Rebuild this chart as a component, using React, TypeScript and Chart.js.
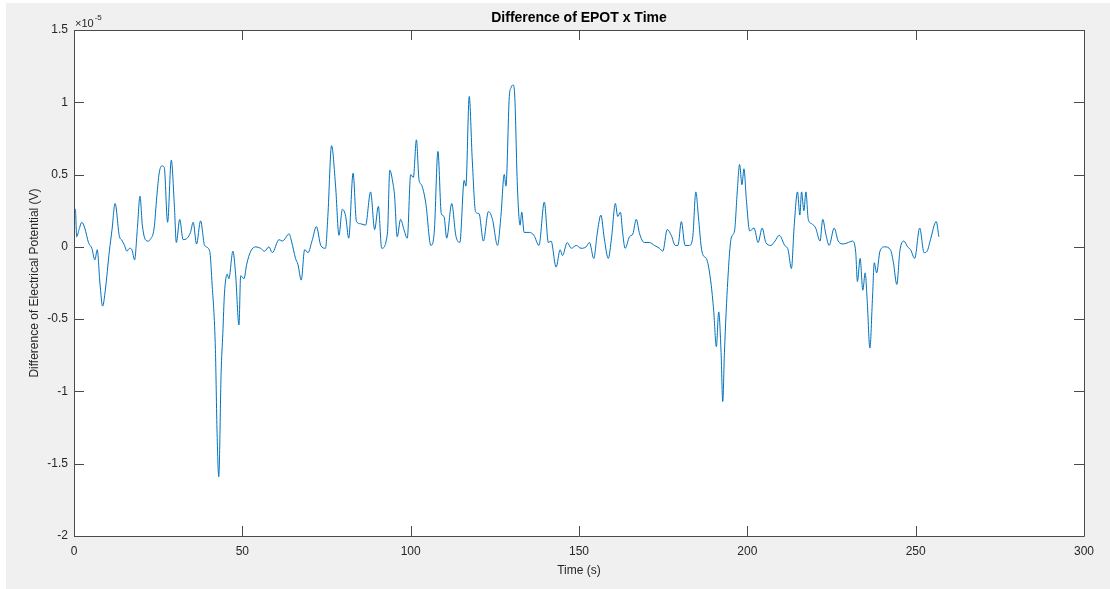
import React, { useEffect, useRef } from "react";
import { Chart, registerables } from "chart.js";

Chart.register(...registerables);

// Time (s)
const times: number[] = [
  0, 0.4, 0.8, 1.5, 2.3, 3.2, 4.3, 5.3, 6.2, 6.9, 7.7, 8.5, 9.3, 10.5, 11.3, 12.2, 13.5, 14.1, 15.0, 15.7,
  16.5, 17.2, 18.0, 18.8, 19.6, 20.3, 21.2, 22.0, 22.6, 23.8, 24.6, 25.3, 26.1, 26.8, 27.8, 28.9, 29.8, 30.4, 31.4, 32.4,
  33.6, 34.6, 35.4, 36.4, 37.6, 38.8, 40.3, 41.0, 42.0, 42.5, 43.0, 43.7, 44.2, 44.7, 45.5, 46.0, 47.2, 48.0, 49.0, 49.5,
  50.5, 51.3, 52.5, 54.0, 55.4, 56.6, 57.9, 58.9, 60.9, 61.9, 63.9, 64.6, 65.8, 66.5, 67.5, 68.5, 69.5, 70.8, 72.0, 73.3,
  74.7, 75.4, 76.5, 77.7, 78.7, 79.7, 80.7, 81.6, 82.9, 83.9, 85.1, 86.6, 88.1, 89.3, 90.4, 91.4, 93.1, 93.8, 94.8, 95.2,
  96.0, 97.0, 98.0, 99.0, 100.0, 100.8, 101.7, 102.5, 103.2, 104.5, 106.0, 107.0, 108.1, 109.1, 109.9, 110.7, 112.2, 113.4, 114.6, 115.9,
  116.4, 117.4, 118.3, 119.3, 120.3, 121.6, 123.1, 124.3, 125.8, 126.8, 127.8, 128.3, 129.3, 129.8, 130.4, 130.9, 131.7, 132.5, 133.0, 133.7,
  135.2, 136.6, 138.1, 139.7, 140.9, 141.7, 143.2, 144.4, 145.1, 146.5, 147.7, 149.2, 150.6, 152.1, 153.1, 154.4, 155.4, 156.5, 157.5, 158.7,
  159.7, 160.8, 161.5, 162.3, 163.0, 163.7, 165.0, 166.0, 167.0, 168.0, 169.4, 170.9, 172.4, 173.9, 174.9, 176.2, 177.4, 178.6, 179.4, 180.4,
  181.5, 182.8, 183.8, 184.7, 185.5, 186.3, 186.8, 188.0, 189.2, 190.0, 190.8, 191.5, 192.2, 192.7, 193.2, 194.2, 195.2, 196.2, 197.0, 197.7,
  198.4, 199.0, 199.7, 200.7, 202.0, 203.2, 204.4, 205.5, 207.0, 208.2, 209.5, 211.1, 212.1, 213.1, 213.9, 214.9, 215.6, 216.1, 216.8, 217.4,
  218.1, 219.1, 220.3, 221.6, 222.4, 223.3, 224.3, 225.8, 227.0, 228.5, 230.0, 231.2, 232.2, 232.7, 233.5, 234.3, 235.0, 235.6, 236.4, 237.2,
  237.7, 238.4, 239.4, 240.8, 242.5, 243.4, 244.4, 245.3, 246.5, 247.6, 248.5, 249.7, 251.2, 252.5, 253.4, 254.4, 256.1, 256.9,
];

// Difference of electrical potential, in units of 1e-5 V
const potentialDiffE5: number[] = [
  0.24, 0.26, 0.07, 0.12, 0.17, 0.13, 0.03, -0.01, -0.09, -0.02, -0.25, -0.41, -0.3, -0.03, 0.12, 0.3, 0.07, 0.05, 0.01, -0.03,
  -0.01, -0.02, -0.09, 0.12, 0.35, 0.15, 0.05, 0.04, 0.05, 0.13, 0.35, 0.51, 0.56, 0.55, 0.17, 0.6, 0.29, 0.03, 0.19, 0.05,
  0.06, 0.1, 0.17, 0.02, 0.18, 0.01, -0.03, -0.25, -0.71, -1.29, -1.59, -0.87, -0.6, -0.32, -0.19, -0.22, -0.03, -0.19, -0.54, -0.2,
  -0.22, -0.12, -0.03, 0.0, -0.01, -0.03, 0.0, -0.04, 0.05, 0.04, 0.09, 0.04, -0.08, -0.12, -0.23, -0.02, -0.04, 0.05, 0.14, 0.01,
  -0.01, 0.21, 0.7, 0.42, 0.08, 0.26, 0.21, 0.06, 0.51, 0.175, 0.16, 0.15, 0.38, 0.12, 0.28, -0.01, 0.095, 0.53, 0.43, 0.36,
  0.07, 0.19, 0.12, 0.06, 0.5, 0.48, 0.74, 0.46, 0.43, 0.3, 0.01, 0.1, 0.66, 0.23, 0.21, 0.06, 0.3, 0.08, 0.03, 0.46,
  0.42, 1.04, 0.6, 0.24, 0.23, 0.04, 0.245, 0.19, 0.01, 0.21, 0.5, 0.42, 1.04, 1.1, 1.12, 1.05, 0.42, 0.15, 0.24, 0.1,
  0.1, 0.08, 0.01, 0.31, 0.03, 0.04, -0.14, -0.02, -0.06, 0.03, -0.01, 0.01, -0.01, 0.0, 0.03, -0.08, 0.09, 0.22, 0.06, -0.08,
  0.07, 0.3, 0.21, 0.24, 0.09, -0.01, 0.07, 0.09, 0.19, 0.09, 0.03, 0.03, 0.01, -0.01, -0.03, 0.12, 0.08, 0.01, 0.01, 0.175,
  0.01, 0.01, 0.07, 0.38, 0.2, 0.0, -0.055, -0.09, -0.25, -0.44, -0.69, -0.45, -0.73, -1.07, -0.73, -0.23, 0.06, 0.11, 0.38, 0.57,
  0.43, 0.54, 0.33, 0.11, 0.13, 0.03, 0.13, 0.03, 0.01, 0.04, 0.08, 0.01, -0.02, -0.15, 0.14, 0.38, 0.22, 0.38, 0.25, 0.38,
  0.19, 0.16, 0.13, 0.04, 0.19, 0.09, 0.01, 0.13, 0.04, 0.02, 0.03, 0.04, -0.04, -0.24, -0.08, -0.3, -0.18, -0.37, -0.7, -0.34,
  -0.11, -0.18, -0.03, 0.0, -0.02, -0.11, -0.26, -0.03, 0.04, 0.0, -0.02, -0.08, 0.13, -0.04, -0.03, 0.05, 0.175, 0.07,
];

const xTicks: number[] = [0, 50, 100, 150, 200, 250, 300];
const yTicks: number[] = [-2, -1.5, -1, -0.5, 0, 0.5, 1, 1.5];

const titleText = "Difference of EPOT x Time";
const xLabel = "Time (s)";
const yLabel = "Difference of Electrical Potential (V)";

const FONT = "'Liberation Sans', Arial, Helvetica, sans-serif";
const TEXT_COLOR = "#262626";
const AXIS_COLOR = "#4a4a4a";

const decorPlugin = {
  id: "matlabDecor",
  beforeDraw(chart: any) {
    const { ctx, width, height, chartArea } = chart;
    ctx.save();
    ctx.fillStyle = "#ffffff";
    ctx.fillRect(0, 0, width, height);
    ctx.fillStyle = "#f0f0f0";
    ctx.fillRect(6, 3, width - 6, height - 3);
    ctx.fillStyle = "#ffffff";
    ctx.fillRect(chartArea.left, chartArea.top, chartArea.right - chartArea.left, chartArea.bottom - chartArea.top);
    ctx.restore();
  },
  afterDraw(chart: any) {
    const { ctx, chartArea } = chart;
    const xs = chart.scales.x;
    const ys = chart.scales.y;
    const { left, right, top, bottom } = chartArea;
    ctx.save();
    ctx.strokeStyle = AXIS_COLOR;
    ctx.lineWidth = 1;
    ctx.beginPath();
    ctx.rect(Math.round(left) + 0.5, Math.round(top) + 0.5, Math.round(right - left), Math.round(bottom - top));
    ctx.stroke();
    const tl = 10;
    ctx.beginPath();
    xTicks.forEach((t) => {
      const px = Math.round(xs.getPixelForValue(t)) + 0.5;
      ctx.moveTo(px, bottom);
      ctx.lineTo(px, bottom - tl);
      ctx.moveTo(px, top);
      ctx.lineTo(px, top + tl);
    });
    yTicks.forEach((v) => {
      const py = Math.round(ys.getPixelForValue(v)) + 0.5;
      ctx.moveTo(left, py);
      ctx.lineTo(left + tl, py);
      ctx.moveTo(right, py);
      ctx.lineTo(right - tl, py);
    });
    ctx.stroke();

    ctx.fillStyle = "#000000";
    ctx.font = `bold 14px ${FONT}`;
    ctx.textAlign = "center";
    ctx.textBaseline = "middle";
    ctx.fillText(titleText, (left + right) / 2, 18.5);

    ctx.fillStyle = TEXT_COLOR;
    ctx.font = `12px ${FONT}`;
    ctx.fillText(xLabel, (left + right) / 2, 571);

    ctx.save();
    ctx.translate(35, (top + bottom) / 2);
    ctx.rotate(-Math.PI / 2);
    ctx.fillText(yLabel, 0, 0);
    ctx.restore();

    ctx.textAlign = "left";
    ctx.textBaseline = "alphabetic";
    ctx.font = `11px ${FONT}`;
    ctx.fillText("\u00d710", 75, 27);
    const w = ctx.measureText("\u00d710").width;
    ctx.font = `8px ${FONT}`;
    ctx.fillText("-5", 75 + w + 1, 20);
    ctx.restore();
  },
};

export default function App() {
  const canvasRef = useRef<HTMLCanvasElement | null>(null);

  useEffect(() => {
    document.body.style.margin = "0";
    const canvas = canvasRef.current;
    if (!canvas) return;
    const chart = new Chart(canvas, {
      type: "line",
      data: {
        datasets: [
          {
            data: times.map((t, i) => ({ x: t, y: potentialDiffE5[i] })),
            borderColor: "#0072BD",
            borderWidth: 1,
            pointRadius: 0,
            cubicInterpolationMode: "monotone",
            fill: false,
          },
        ],
      },
      options: {
        animation: false,
        responsive: false,
        devicePixelRatio: 1,
        layout: { padding: { left: 0, right: 26, top: 30, bottom: 0 } },
        plugins: { legend: { display: false }, title: { display: false }, tooltip: { enabled: false } },
        scales: {
          x: {
            type: "linear",
            min: 0,
            max: 300,
            afterBuildTicks: (s: any) => {
              s.ticks = xTicks.map((v) => ({ value: v }));
            },
            afterFit: (s: any) => {
              s.height = 53;
            },
            grid: { display: false, drawTicks: false },
            border: { display: false },
            ticks: {
              font: { family: FONT, size: 12 },
              color: TEXT_COLOR,
              padding: 8,
              maxRotation: 0,
              callback: (v: any) => String(v),
            },
          },
          y: {
            type: "linear",
            min: -2,
            max: 1.5,
            afterBuildTicks: (s: any) => {
              s.ticks = yTicks.map((v) => ({ value: v }));
            },
            afterFit: (s: any) => {
              s.width = 74;
            },
            grid: { display: false, drawTicks: false },
            border: { display: false },
            ticks: {
              font: { family: FONT, size: 12 },
              color: TEXT_COLOR,
              padding: 6,
              callback: (v: any) => String(Math.round(Number(v) * 10) / 10),
            },
          },
        },
      },
      plugins: [decorPlugin],
    } as any);
    return () => chart.destroy();
  }, []);

  return <canvas ref={canvasRef} width={1110} height={589} style={{ display: "block" }} />;
}
